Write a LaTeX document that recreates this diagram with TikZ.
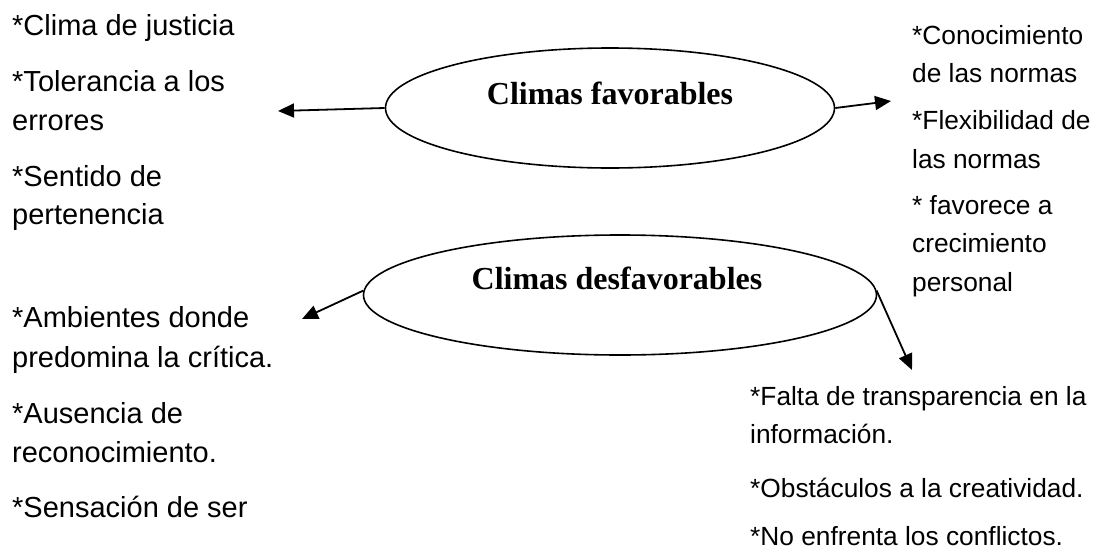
\documentclass[tikz,border=0pt]{standalone}
\usepackage{fontspec}
\setmainfont{Liberation Sans}
\newfontfamily\titlefont{Liberation Serif}
\usetikzlibrary{shapes.geometric,arrows.meta}
\begin{document}
\begin{tikzpicture}[x=1pt,y=-1pt,
  oval/.style={draw,ellipse,line width=1.6pt,inner sep=0pt},
  title/.style={anchor=base,inner sep=0pt,font=\titlefont\bfseries\fontsize{32}{36}\selectfont},
  lt/.style={anchor=base west,inner sep=0pt,font=\fontsize{29}{34}\selectfont},
  rt/.style={anchor=base west,inner sep=0pt,font=\fontsize{26.3}{31}\selectfont},
  arr/.style={line width=1.8pt,-{Triangle[length=16pt,width=14pt]}}]
\useasboundingbox (0,0) rectangle (1101,549);
% ellipses
\node[oval,minimum width=449pt,minimum height=120pt] (fav) at (610,108) {};
\node[oval,minimum width=513pt,minimum height=120pt] (des) at (620,295) {};
\node[title] (favt) at (610,104) {Climas favorables};
\node[title] (dest) at (617,289) {Climas desfavorables};
% left top column
\node[lt] (l1) at (12,35) {*Clima de justicia};
\node[lt] (l2) at (12,91) {*Tolerancia a los};
\node[lt] (l3) at (12,130) {errores};
\node[lt] (l4) at (12,186) {*Sentido de};
\node[lt] (l5) at (12,224) {pertenencia};
% left bottom column
\node[lt] (b1) at (12,327) {*Ambientes donde};
\node[lt] (b2) at (12,367) {predomina la crítica.};
\node[lt] (b3) at (12,423) {*Ausencia de};
\node[lt] (b4) at (12,462) {reconocimiento.};
\node[lt] (b5) at (12,517) {*Sensación de ser};
% right column
\node[rt] (r1) at (912,44) {*Conocimiento};
\node[rt] (r2) at (912,82.5) {de las normas};
\node[rt] (r3) at (912,129) {*Flexibilidad de};
\node[rt] (r4) at (912,168) {las normas};
\node[rt] (r5) at (912,214) {* favorece a};
\node[rt] (r6) at (912,252.5) {crecimiento};
\node[rt] (r7) at (912,291) {personal};
% bottom right
\node[rt] (s1) at (750,405) {*Falta de transparencia en la};
\node[rt] (s2) at (750,443) {información.};
\node[rt] (s3) at (750,497) {*Obstáculos a la creatividad.};
\node[rt] (s4) at (750,545) {*No enfrenta los conflictos.};
% arrow ends
\coordinate (t1) at (278,111);
\coordinate (t2) at (891,101);
\coordinate (t3) at (302,319);
\coordinate (t4) at (912,370);
\draw[arr] (fav.west) -- (t1);
\draw[arr] (fav.east) -- (t2);
\draw[arr] (des.179) -- (t3);
\draw[arr] (des.1.5) -- (t4);
\end{tikzpicture}
\end{document}
